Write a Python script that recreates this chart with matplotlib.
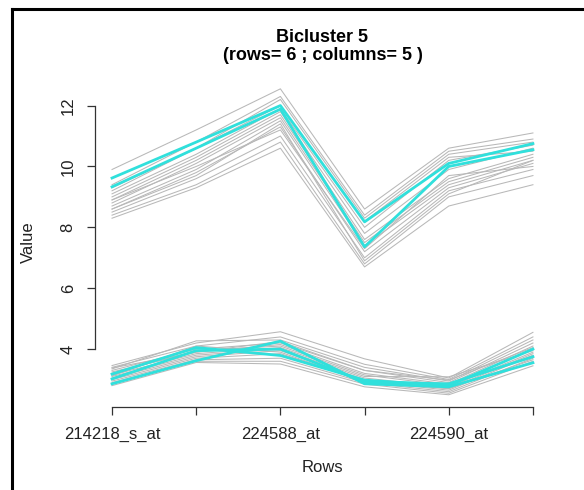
import numpy as np
import matplotlib.pyplot as plt
from matplotlib.lines import Line2D

plt.rcParams['font.family'] = ['Liberation Sans', 'DejaVu Sans']

# Row (probe) labels along the x axis; R drops the ones that would overlap
ROW_LABELS = ["214218_s_at", "", "224588_at", "", "224590_at", ""]

# Columns outside the bicluster (grey), high-expression group
GREY_HIGH = [
    [9.9, 11.2, 12.55, 8.6, 10.6, 11.1],
    [9.3, 10.6, 12.2, 8.3, 10.4, 10.8],
    [9.1, 10.4, 11.9, 8.0, 10.2, 10.7],
    [9.0, 10.3, 11.8, 7.8, 9.9, 10.6],
    [8.9, 10.2, 11.7, 7.6, 9.6, 10.4],
    [8.8, 10.1, 11.6, 7.5, 9.5, 10.3],
    [8.7, 9.9, 11.5, 7.4, 9.4, 10.2],
    [8.6, 9.8, 11.3, 7.2, 9.3, 10.1],
    [8.5, 9.6, 11.0, 7.0, 9.2, 9.9],
    [8.4, 9.4, 10.8, 6.8, 9.0, 9.7],
    [8.3, 9.3, 10.6, 6.7, 8.7, 9.4],
    [9.2, 10.6, 12.0, 8.2, 10.3, 10.5],
    [8.9, 10.0, 11.2, 7.3, 9.7, 10.0],
    [9.4, 10.8, 12.3, 8.4, 10.5, 10.9],
    [8.6, 9.7, 11.4, 6.9, 9.1, 10.2],
]

# Columns outside the bicluster (grey), low-expression group
GREY_LOW = [
    [3.46, 4.20, 4.57, 3.68, 3.05, 4.55],
    [3.40, 4.10, 4.40, 3.50, 3.00, 4.40],
    [3.35, 4.27, 4.30, 3.40, 2.95, 4.30],
    [3.30, 4.00, 4.20, 3.30, 2.90, 4.20],
    [3.25, 3.90, 4.15, 3.20, 2.85, 4.10],
    [3.20, 3.95, 4.10, 3.15, 2.80, 4.00],
    [3.15, 3.85, 4.05, 3.10, 3.09, 3.95],
    [3.10, 3.80, 4.00, 3.05, 2.75, 3.90],
    [3.05, 3.75, 3.95, 3.00, 2.70, 3.85],
    [3.00, 3.70, 3.85, 2.95, 2.65, 3.80],
    [2.95, 3.65, 3.70, 2.90, 2.60, 3.70],
    [2.90, 3.60, 3.60, 2.85, 2.55, 3.60],
    [2.80, 3.56, 3.51, 2.76, 2.50, 3.45],
    [3.38, 3.90, 4.25, 3.30, 2.98, 4.05],
    [3.12, 4.10, 3.90, 2.92, 2.70, 3.65],
]

# Columns in the bicluster (highlighted)
BIC_COLS = [
    [9.62, 10.80, 12.00, 8.18, 10.10, 10.75],
    [9.33, 10.60, 11.88, 7.36, 10.00, 10.55],
    [2.86, 3.62, 4.26, 2.86, 2.76, 3.55],
    [3.02, 3.95, 4.00, 2.92, 2.86, 3.75],
    [3.18, 4.05, 3.79, 2.98, 2.80, 4.00],
]

x = np.arange(1, len(ROW_LABELS) + 1)

fig = plt.figure(figsize=(5.84, 4.90), dpi=100)
ax = fig.add_axes([0.163, 0.1694, 0.7784, 0.6743])

for col in GREY_HIGH + GREY_LOW:
    ax.plot(x, col, color="#b8b8b8", lw=0.75)
for col in BIC_COLS:
    ax.plot(x, col, color="#30e0dc", lw=2.0)

# R-style axis limits: data range padded by 4%
allv = np.array(GREY_HIGH + GREY_LOW + BIC_COLS)
lo, hi = allv.min(), allv.max()
pad = 0.04 * (hi - lo)
ax.set_ylim(lo - pad, hi + pad)
ax.set_xlim(1 - 0.04 * 5, 6 + 0.04 * 5)

for side in ("top", "right"):
    ax.spines[side].set_visible(False)
ax.spines["left"].set_bounds(4, 12)
ax.spines["bottom"].set_bounds(1, 6)
for side in ("left", "bottom"):
    ax.spines[side].set_color("#333333")
    ax.spines[side].set_linewidth(0.9)

ax.set_xticks(x)
ax.set_xticklabels(ROW_LABELS, fontsize=12, color="#222222")
ax.set_yticks([4, 6, 8, 10, 12])
ax.set_yticklabels(["4", "6", "8", "10", "12"], fontsize=12,
                   rotation=90, va="center", color="#222222")
ax.tick_params(direction="out", length=6, width=0.9, color="#333333", pad=8)

ax.set_xlabel("Rows", fontsize=12, labelpad=13, color="#222222")
ax.set_ylabel("Value", fontsize=12, labelpad=18, color="#222222")
ax.set_title("Bicluster 5\n(rows= 6 ; columns= 5 )", fontsize=13,
             fontweight="bold", pad=12, linespacing=1.05)

# black frame on the left and top edges
fig.add_artist(Line2D([12 / 584, 12 / 584], [0, 1 - 9 / 490],
                      transform=fig.transFigure, color="black", lw=2.2))
fig.add_artist(Line2D([12 / 584, 1], [1 - 9 / 490, 1 - 9 / 490],
                      transform=fig.transFigure, color="black", lw=2.2))

fig.savefig("out.png", dpi=100)
